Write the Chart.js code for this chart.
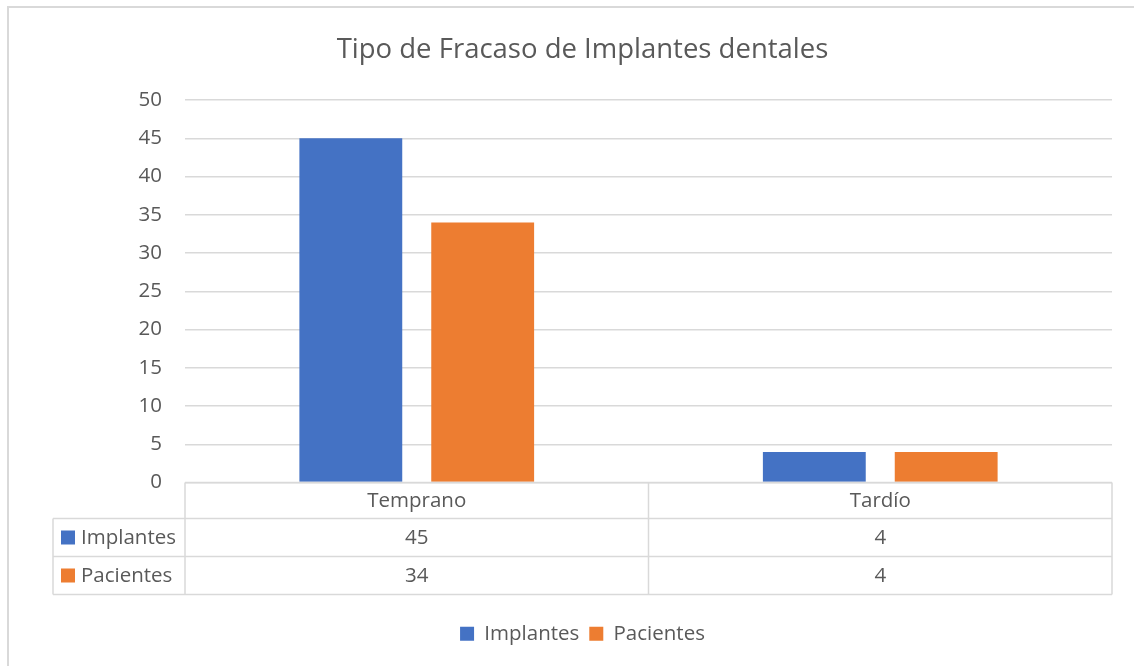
<!DOCTYPE html>
<html>
<head>
<meta charset="utf-8">
<script src="https://cdn.jsdelivr.net/npm/chart.js@4.4.1/dist/chart.umd.min.js"></script>
<style>
  html, body { margin: 0; padding: 0; background: #fff; }
  #wrap { width: 1134px; height: 666px; position: relative; }
</style>
</head>
<body>
<div id="wrap"><canvas id="grafico"></canvas></div>
<script>
// Datos del gráfico
const categorias = ['Temprano', 'Tardío'];
const implantes = [45, 4];
const pacientes = [34, 4];
const nombresSeries = ['Implantes', 'Pacientes'];
const coloresSeries = ['#4472C4', '#ED7D31'];

const colorTexto = '#595959';
const colorLinea = '#d9d9d9';
const fuente = "'Open Sans', 'Noto Sans', sans-serif";
const tamTexto = 20.5;

// Marco del área del gráfico (como en Excel)
const marcoPlugin = {
    id: 'marco',
    beforeDraw(chart) {
        const ctx = chart.ctx;
        ctx.save();
        ctx.strokeStyle = colorLinea;
        ctx.lineWidth = 2;
        ctx.strokeRect(8, 7, 1140, 670);
        ctx.restore();
    }
};

// Tabla de datos debajo del eje X
const tablaPlugin = {
    id: 'tablaDatos',
    afterDraw(chart) {
        const ctx = chart.ctx;
        const area = chart.chartArea;
        const izq = area.left, der = area.right;
        const ancho = (der - izq) / categorias.length;
        const y0 = area.bottom;
        const altoCab = 36, altoFila = 38;
        const xTabla = 53;
        const series = [implantes, pacientes];

        ctx.save();
        ctx.strokeStyle = colorLinea;
        ctx.lineWidth = 1.5;
        ctx.beginPath();
        // fila de cabecera
        ctx.moveTo(izq, y0); ctx.lineTo(der, y0);
        for (let i = 0; i <= categorias.length; i++) {
            const x = izq + i * ancho;
            ctx.moveTo(x, y0); ctx.lineTo(x, y0 + altoCab + altoFila * series.length);
        }
        for (let f = 0; f <= series.length; f++) {
            const y = y0 + altoCab + f * altoFila;
            ctx.moveTo(xTabla, y); ctx.lineTo(der, y);
        }
        ctx.moveTo(xTabla, y0 + altoCab); ctx.lineTo(xTabla, y0 + altoCab + altoFila * series.length);
        ctx.stroke();

        ctx.fillStyle = colorTexto;
        ctx.font = tamTexto + 'px ' + fuente;
        ctx.textAlign = 'center';
        ctx.textBaseline = 'middle';
        categorias.forEach((c, i) => {
            ctx.fillText(c, izq + (i + 0.5) * ancho, y0 + altoCab / 2 + 1);
        });
        series.forEach((vals, f) => {
            const yc = y0 + altoCab + f * altoFila + altoFila / 2 + 1;
            vals.forEach((v, i) => {
                ctx.fillStyle = colorTexto;
                ctx.textAlign = 'center';
                ctx.fillText(String(v), izq + (i + 0.5) * ancho, yc);
            });
            ctx.fillStyle = coloresSeries[f];
            ctx.fillRect(61, yc - 8, 14, 14);
            ctx.fillStyle = colorTexto;
            ctx.textAlign = 'left';
            ctx.fillText(nombresSeries[f], 81, yc);
        });
        ctx.restore();
    }
};

const ctx = document.getElementById('grafico');
new Chart(ctx, {
    type: 'bar',
    data: {
        labels: categorias,
        datasets: [
            { label: nombresSeries[0], data: implantes, backgroundColor: coloresSeries[0] },
            { label: nombresSeries[1], data: pacientes, backgroundColor: coloresSeries[1] }
        ]
    },
    options: {
        responsive: true,
        maintainAspectRatio: false,
        animation: false,
        categoryPercentage: 0.569,
        barPercentage: 0.78,
        layout: { padding: { top: 18, left: 53, right: 22, bottom: 12 } },
        scales: {
            x: {
                ticks: { display: false },
                grid: { display: false },
                border: { display: false },
                afterFit: function(scale) { scale.height = 131; }
            },
            y: {
                min: 0,
                max: 50,
                ticks: {
                    stepSize: 5,
                    padding: 23,
                    color: colorTexto,
                    font: { family: fuente, size: tamTexto }
                },
                grid: { color: colorLinea, lineWidth: 1.5, drawTicks: false },
                border: { display: false },
                afterFit: function(scale) { scale.width = 132; }
            }
        },
        plugins: {
            title: {
                display: true,
                text: 'Tipo de Fracaso de Implantes dentales',
                color: colorTexto,
                font: { family: fuente, size: 27.5, weight: 'normal' },
                padding: { top: 15.5, bottom: 33.5 }
            },
            legend: {
                display: true,
                position: 'bottom',
                labels: {
                    color: colorTexto,
                    font: { family: fuente, size: tamTexto },
                    boxWidth: 14,
                    boxHeight: 14,
                    padding: 10
                }
            },
            tooltip: { enabled: false }
        }
    },
    plugins: [marcoPlugin, tablaPlugin]
});
</script>
</body>
</html>
